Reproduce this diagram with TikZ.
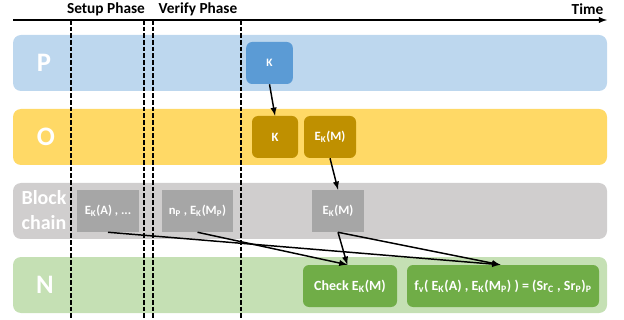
\documentclass[tikz,border=0pt]{standalone}
\usepackage{fontspec}
\setmainfont{Carlito}
\usepackage{xcolor}
\usetikzlibrary{positioning, arrows}

\definecolor{laneP}{HTML}{BDD7EE}
\definecolor{boxP}{HTML}{5B9BD5}
\definecolor{laneO}{HTML}{FFD966}
\definecolor{boxO}{HTML}{BF9000}
\definecolor{laneChain}{HTML}{D0CECE}
\definecolor{boxChain}{HTML}{A6A6A6}
\definecolor{laneN}{HTML}{C5E0B4}
\definecolor{boxN}{HTML}{70AD47}

\begin{document}
\begin{tikzpicture}[x=0.75pt, y=-0.75pt,
	lane/.style={rectangle, rounded corners=6pt, minimum width=445.5pt, minimum height=42pt, inner sep=0pt},
	laneLabel/.style={text=white, align=center, font=\bfseries\fontsize{20}{24}\selectfont},
	roundBox/.style={rectangle, rounded corners=4.5pt, minimum height=31.5pt, inner sep=0pt, text=white},
	chainBox/.style={rectangle, fill=boxChain, minimum height=31.5pt, inner sep=0pt, text=white,
		font=\bfseries\fontsize{9.5}{11}\selectfont},
	phaseLabel/.style={font=\bfseries\fontsize{11.5}{13}\selectfont},
	phaseLine/.style={line width=1.1pt, dash pattern=on 3.5pt off 1.5pt},
	link/.style={-latex, line width=1.1pt}]
	
	\useasboundingbox (0,0) rectangle (624,320);
	
	%Lanes of the scheme
	\node (pLane) at (310,63) [lane, fill=laneP]{};
	\node (oLane) at (310,137) [lane, fill=laneO]{};
	\node (chainLane) at (310,211) [lane, fill=laneChain]{};
	\node (nLane) at (310,285) [lane, fill=laneN]{};
	
	\node (pLabel) at (44,63) [laneLabel]{P};
	\node (oLabel) at (46,137) [laneLabel]{O};
	\node (chainLabel) at (44,210) [laneLabel, font=\bfseries\fontsize{15}{18.5}\selectfont]{Block\\chain};
	\node (nLabel) at (45,285) [laneLabel]{N};
	
	%Time axis and phases
	\coordinate (timeStart) at (13,20);
	\coordinate (timeEnd) at (607,20);
	\draw[-latex, line width=1.1pt] (timeStart) -- (timeEnd);
	\node (timeLabel) at (608,9) [anchor=east, phaseLabel]{Time};
	\node (setupLabel) at (106,9) [phaseLabel]{Setup Phase};
	\node (verifyLabel) at (198,9) [phaseLabel]{Verify Phase};
	
	\foreach \x in {71,144,153,241}
		\draw[phaseLine] (\x,20) -- (\x,318);
	
	%Nodes in the lanes
	\node (pKey) at (269.5,63) [roundBox, fill=boxP, minimum width=35pt,
		font=\bfseries\fontsize{8.5}{10}\selectfont]{K};
	
	\node (oKey) at (275,137) [roundBox, fill=boxO, minimum width=34.5pt,
		font=\bfseries\fontsize{9.5}{11}\selectfont]{K};
	
	\node (oCipher) at (330,137) [roundBox, fill=boxO, minimum width=39pt,
		font=\bfseries\fontsize{9.5}{11}\selectfont]{E\textsubscript{K}(M)};
	
	\node (chainSetup) at (108,211) [chainBox, minimum width=46.5pt]{E\textsubscript{K}(A) , ...};
	
	\node (chainVerify) at (197.5,211) [chainBox, minimum width=53.25pt]{n\textsubscript{P} , E\textsubscript{K}(M\textsubscript{P})};
	
	\node (chainCipher) at (338,211) [chainBox, minimum width=39pt]{E\textsubscript{K}(M)};
	
	\node (nCheck) at (350,286) [roundBox, fill=boxN, minimum width=70.5pt,
		font=\bfseries\fontsize{10.5}{12}\selectfont]{Check E\textsubscript{K}(M)};
	
	\node (nVerify) at (503,286) [roundBox, fill=boxN, minimum width=144pt,
		font=\bfseries\fontsize{10.5}{12}\selectfont]{f\textsubscript{v}( E\textsubscript{K}(A) , E\textsubscript{K}(M\textsubscript{P}) ) = (Sr\textsubscript{C} , Sr\textsubscript{P})\textsubscript{P}};
	
	%Links
	\draw[link] (pKey.south) -- (oKey.north);
	
	\draw[link] (oCipher.south) -- (chainCipher.north);
	
	\draw[link] (chainCipher.south) -- ([xshift=-2pt]nCheck.north);
	
	\draw[link] (chainCipher.south) -- ([xshift=-2pt]nVerify.north);
	
	\draw[link] (chainSetup.south) -- ([xshift=-2pt]nVerify.north);
	
	\draw[link] (chainVerify.south) -- ([xshift=-2pt]nCheck.north);
	
\end{tikzpicture}
\end{document}
